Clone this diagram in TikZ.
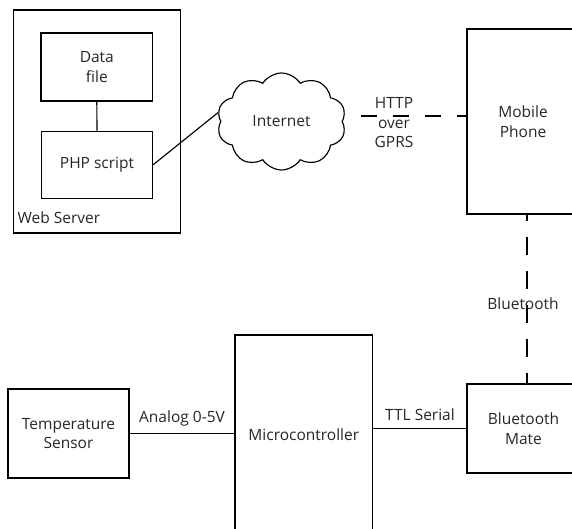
\documentclass[tikz,border=0pt]{standalone}
\usepackage{fontspec}
\setmainfont{Open Sans}
\usetikzlibrary{shapes.symbols,calc}
\begin{document}
\begin{tikzpicture}[x=1pt,y=-1pt,
  line width=1.15pt,
  every node/.style={font=\fontsize{15.5pt}{19.5pt}\selectfont, text=black!85},
  box/.style={draw=black, align=center, inner sep=0pt},
  lbl/.style={inner sep=0pt, align=center},
  hdash/.style={dash pattern=on 16pt off 16pt, dash phase=16pt},
  vdash/.style={dash pattern=on 18pt off 16pt, dash phase=12pt}]
\useasboundingbox (0,0) rectangle (572,529);
\clip (0,0) rectangle (572,529);
% web server
\node[box, minimum width=167pt, minimum height=223pt] (web) at (97,121.5) {};
\node[lbl, anchor=west] (weblbl) at (17,218) {Web Server};
\node[box, minimum width=111.5pt, minimum height=68pt] (data) at (96.8,67) {Data\\file};
\node[box, minimum width=110.6pt, minimum height=67.5pt] (php) at (97,165) {PHP script};
\draw (data.south) -- (php.north);
% cloud
\node[cloud, draw=black, cloud puffs=10, cloud puff arc=115, cloud ignores aspect,
      minimum width=129pt, minimum height=97pt, inner sep=0pt] (cloud) at (281.5,121.5) {Internet};
\draw (php.east) -- (cloud.172);
% phone
\node[box, minimum width=112pt, minimum height=185pt] (phone) at (523,121.5) {Mobile\\Phone};
\draw[hdash] (cloud.5) -- (cloud.5 -| phone.west);
\node[lbl] (http) at (394,123) {HTTP\\over\\GPRS};
% bluetooth mate
\node[box, minimum width=113pt, minimum height=89pt] (mate) at (523.5,428.5) {Bluetooth\\Mate};
\draw[vdash] ([xshift=4pt]phone.south) -- ([xshift=4pt]phone.south |- mate.north);
\node[lbl] (bt) at (523,304) {Bluetooth};
% microcontroller
\node[box, minimum width=137.7pt, minimum height=200pt] (micro) at (303.8,435) {Microcontroller};
\draw (mate.west) -- (mate.west -| micro.east);
\node[lbl] (ttl) at (420,415) {TTL Serial};
% temperature sensor
\node[box, minimum width=121pt, minimum height=89pt] (temp) at (68.5,433.5) {Temperature\\Sensor};
\draw (temp.east) -- (temp.east -| micro.west);
\node[lbl] (analog) at (182,418) {Analog 0-5V};
\end{tikzpicture}
\end{document}
